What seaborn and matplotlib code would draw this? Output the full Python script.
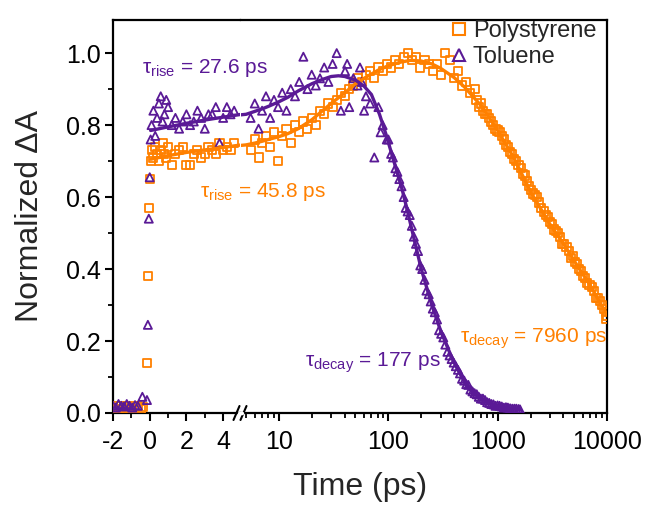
import numpy as np
import pandas as pd
import matplotlib
matplotlib.use("Agg")
import matplotlib.pyplot as plt
from matplotlib.lines import Line2D
from matplotlib.ticker import MultipleLocator, LogLocator, NullFormatter, FixedLocator
import seaborn as sns

# ---------------- data ----------------
# linear segment (-2 ... 5 ps)
ps_lin_x = [-2.0, -1.85, -1.7, -1.55, -1.4, -1.25, -1.1, -0.95, -0.8, -0.65, -0.5, -0.35,
            -0.15, -0.1, -0.05, 0.0, 0.05,
            0.1, 0.2, 0.3, 0.4, 0.5, 0.6, 0.7, 0.8, 0.9, 1.0, 1.2, 1.4, 1.6, 1.8, 2.0, 2.2,
            2.4, 2.6, 2.8, 3.0, 3.2, 3.4, 3.6, 3.8, 4.0, 4.2, 4.4, 4.6]
ps_lin_y = [0.015, 0.02, 0.01, 0.018, 0.012, 0.02, 0.015, 0.01, 0.018, 0.02, 0.012, 0.016,
            0.14, 0.38, 0.57, 0.65, 0.70,
            0.73, 0.71, 0.74, 0.72, 0.70, 0.73, 0.75, 0.72, 0.71, 0.74, 0.69, 0.72, 0.73, 0.74, 0.69, 0.69,
            0.72, 0.73, 0.71, 0.72, 0.74, 0.73, 0.72, 0.75, 0.73, 0.74, 0.73, 0.75]
tol_lin_x = [-2.0, -1.85, -1.7, -1.55, -1.4, -1.25, -1.1, -0.95, -0.8, -0.65, -0.4,
             -0.15, -0.1, -0.05, 0.0, 0.05,
             0.1, 0.2, 0.3, 0.4, 0.5, 0.6, 0.7, 0.8, 0.9, 1.0, 1.2, 1.4, 1.6, 1.8, 2.0, 2.2,
             2.4, 2.6, 2.8, 3.0, 3.2, 3.4, 3.6, 3.8, 4.0, 4.2, 4.4, 4.6]
tol_lin_y = [0.02, 0.015, 0.025, 0.02, 0.018, 0.025, 0.02, 0.015, 0.022, 0.02, 0.045,
             0.036, 0.245, 0.54, 0.655, 0.76,
             0.80, 0.84, 0.77, 0.82, 0.86, 0.88, 0.81, 0.83, 0.87, 0.85, 0.80, 0.82, 0.79, 0.81, 0.83, 0.80,
             0.81, 0.84, 0.82, 0.79, 0.83, 0.83, 0.85, 0.75, 0.82, 0.85, 0.83, 0.84]

# log segment (5 ... 10000 ps)
ps_log_x = [5.5, 6, 6.5, 7, 7.6, 8.3, 9, 9.8, 10.7, 11.7, 12.8, 14, 15.3, 16.7, 18.2, 19.9, 21.7,
            23.7, 25.9, 28.3, 30.9, 33.7, 36.8, 40.2, 43.9, 47.9, 52.3, 57.1, 62.4, 68.1, 74.4,
            81.2, 88.7, 96.8, 106, 116, 126, 138, 150, 164, 179, 196, 214, 234, 255, 279, 304,
            332, 363, 396, 433, 472, 516, 563, 615, 672, 733, 801, 875, 955, 1040, 1140, 1240,
            1360, 1480, 1620, 1770, 1930, 2110, 2300, 2510, 2750, 3000, 3270, 3570, 3900, 4260,
            4650, 5080, 5550, 6060, 6620, 7230, 7890, 8620, 9410, 10000,
            640, 700, 765, 835, 912, 996, 1090, 1190, 1300, 1420, 1550, 1690, 1850, 2020, 2200,
            2410, 2630, 2870, 3130, 3420, 3740, 4080, 4460, 4870, 5310, 5800, 6340, 6920, 7550,
            8250, 9010, 9800, 9900]
ps_log_y = [0.73, 0.76, 0.71, 0.75, 0.77, 0.74, 0.78, 0.70, 0.77, 0.79, 0.75, 0.80, 0.78, 0.81, 0.79, 0.82, 0.80,
            0.84, 0.83, 0.86, 0.85, 0.87, 0.89, 0.88, 0.90, 0.91, 0.93, 0.92, 0.94, 0.95, 0.93,
            0.96, 0.95, 0.97, 0.96, 0.98, 0.97, 0.99, 1.00, 0.98, 0.99, 0.96, 0.98, 0.97, 0.95, 0.97, 0.94,
            1.00, 0.98, 0.93, 0.95, 0.91, 0.92, 0.89, 0.90, 0.85, 0.84, 0.83, 0.81, 0.79, 0.78, 0.76, 0.74,
            0.72, 0.70, 0.68, 0.66, 0.63, 0.61, 0.60, 0.57, 0.55, 0.53, 0.51, 0.50, 0.47, 0.46,
            0.43, 0.42, 0.40, 0.38, 0.36, 0.35, 0.32, 0.31, 0.29, 0.27,
            0.87, 0.86, 0.83, 0.82, 0.80, 0.785, 0.77, 0.745, 0.725, 0.705, 0.69, 0.665, 0.645, 0.62, 0.605,
            0.585, 0.56, 0.545, 0.525, 0.505, 0.49, 0.47, 0.45, 0.435, 0.415, 0.395, 0.375, 0.355, 0.34,
            0.32, 0.30, 0.28, 0.26]
tol_log_x = [5.5, 6, 6.5, 7, 7.6, 8.3, 9, 9.8, 10.7, 11.7, 12.8, 14, 15.3, 16.7, 18.2, 19.9, 21.7,
             23.7, 25.9, 28.3, 30.9, 33.7, 36.8, 40.2, 43.9, 47.9, 52.3, 57.1, 62.4, 68.1, 74.4,
             81.2, 88.7, 96.8, 106, 116, 126, 138, 150, 164, 179, 196, 214, 234, 255, 279, 304,
             332, 363, 396, 433, 472, 516, 563, 615, 672, 733, 801, 875, 955, 1040, 1140, 1240,
             1360, 1480, 1600,
             100, 110, 121, 132, 144, 157, 171, 187, 204, 223, 244, 266, 291, 318, 347, 379, 414,
             452, 494, 539, 588, 643, 702, 766, 837, 914, 998, 1090, 1190, 1300, 1420, 1550,
             42, 55, 60, 85]
tol_log_y = [0.82, 0.86, 0.79, 0.84, 0.88, 0.82, 0.87, 0.85, 0.89, 0.84, 0.90, 0.88, 0.92, 0.99, 0.90, 0.94, 0.91,
             0.93, 0.96, 0.92, 0.97, 1.00, 0.84, 0.95, 0.85, 0.93, 0.91, 0.92, 0.88, 0.86, 0.71,
             0.85, 0.80, 0.76, 0.72, 0.68, 0.65, 0.60, 0.56, 0.52, 0.47, 0.41, 0.37, 0.33, 0.29, 0.26, 0.22,
             0.19, 0.16, 0.14, 0.12, 0.095, 0.08, 0.065, 0.055, 0.045, 0.04, 0.03, 0.025, 0.02, 0.02, 0.015, 0.015,
             0.012, 0.012, 0.01,
             0.76, 0.71, 0.67, 0.63, 0.57, 0.55, 0.49, 0.45, 0.40, 0.34, 0.31, 0.28, 0.23, 0.21, 0.17, 0.15, 0.13,
             0.11, 0.09, 0.078, 0.06, 0.052, 0.04, 0.036, 0.028, 0.024, 0.021, 0.018, 0.016, 0.013, 0.012, 0.011,
             0.97, 0.96, 0.84, 0.78]

# fitted curves
ps_fit_lin_x = [0.05, 1, 2, 3, 4, 5]
ps_fit_lin_y = [0.705, 0.715, 0.724, 0.731, 0.738, 0.745]
tol_fit_lin_x = [0.05, 1, 2, 3, 4, 5]
tol_fit_lin_y = [0.785, 0.795, 0.805, 0.814, 0.822, 0.83]
ps_fit_log_x = [4.3, 5, 6, 7, 8, 10, 12, 15, 20, 25, 30, 40, 50, 60, 80, 100, 130, 160, 200, 250, 300, 400,
                500, 700, 1000, 1400, 2000, 3000, 4000, 5600, 7000, 8500, 10000]
ps_fit_log_y = [0.743, 0.745, 0.75, 0.755, 0.76, 0.768, 0.776, 0.79, 0.815, 0.84, 0.86, 0.89, 0.915, 0.93,
                0.952, 0.965, 0.975, 0.98, 0.978, 0.97, 0.958, 0.932, 0.905, 0.855, 0.785, 0.71, 0.615,
                0.525, 0.47, 0.40, 0.355, 0.31, 0.275]
tol_fit_log_x = [4.3, 5, 6, 7, 8, 10, 12, 15, 20, 25, 30, 35, 40, 50, 60, 70, 83, 95, 105, 120, 134, 150, 170,
                 200, 250, 300, 350, 400, 460, 520, 600, 700, 850, 1000, 1250, 1600]
tol_fit_log_y = [0.828, 0.83, 0.838, 0.845, 0.852, 0.865, 0.877, 0.895, 0.915, 0.927, 0.935, 0.937, 0.935,
                 0.925, 0.908, 0.885, 0.83, 0.775, 0.73, 0.67, 0.62, 0.56, 0.49, 0.40, 0.30, 0.23, 0.18,
                 0.14, 0.105, 0.075, 0.055, 0.04, 0.028, 0.02, 0.013, 0.01]

series = ["Polystyrene", "Toluene"]
lin_ticks = [-2, 0, 2, 4]
log_ticks = [10, 100, 1000, 10000]
log_ticklabels = ["10", "100", "1000", "10000"]
y_ticks = [0.0, 0.2, 0.4, 0.6, 0.8, 1.0]

# ---------------- style ----------------
sns.set_theme(style="ticks")
plt.rcParams["font.family"] = ["Liberation Sans", "DejaVu Sans"]
plt.rcParams["mathtext.fontset"] = "custom"
plt.rcParams["mathtext.rm"] = "Liberation Sans"
plt.rcParams["mathtext.it"] = "Liberation Sans:italic"
plt.rcParams["mathtext.default"] = "regular"

ORANGE = "#FF8000"
PURPLE = "#5A1A96"
W, Hpx = 649, 505

fig = plt.figure(figsize=(W / 100, Hpx / 100), dpi=100)
fig.patch.set_facecolor("white")
xb = 240.5
B = 1 - 413 / Hpx
H = (413 - 20) / Hpx
ax1 = fig.add_axes([113 / W, B, (xb - 113) / W, H])
ax2 = fig.add_axes([xb / W, B, (607 - xb) / W, H])

mk = dict(s=34, facecolor="none", linewidth=1.3, legend=False, zorder=3)

# linear segment
sns.scatterplot(x=ps_lin_x, y=ps_lin_y, ax=ax1, marker="s", edgecolor=ORANGE, **mk)
sns.scatterplot(x=tol_lin_x, y=tol_lin_y, ax=ax1, marker="^", edgecolor=PURPLE, **mk)
sns.lineplot(x=ps_fit_lin_x, y=ps_fit_lin_y, ax=ax1, color=ORANGE, lw=2.4, zorder=4)
sns.lineplot(x=tol_fit_lin_x, y=tol_fit_lin_y, ax=ax1, color=PURPLE, lw=2.4, zorder=4)

# log segment
sns.scatterplot(x=ps_log_x, y=ps_log_y, ax=ax2, marker="s", edgecolor=ORANGE, **mk)
sns.scatterplot(x=tol_log_x, y=tol_log_y, ax=ax2, marker="^", edgecolor=PURPLE, **mk)
sns.lineplot(x=ps_fit_log_x, y=ps_fit_log_y, ax=ax2, color=ORANGE, lw=2.4, zorder=4)
sns.lineplot(x=tol_fit_log_x, y=tol_fit_log_y, ax=ax2, color=PURPLE, lw=2.4, zorder=4)

TICK_FS = 18
for ax in (ax1, ax2):
    ax.set_ylim(0, 1.092)
    for sp in ax.spines.values():
        sp.set_linewidth(1.6)
        sp.set_color("black")
    ax.set_xlabel("")
    ax.set_ylabel("")
    ax.set_facecolor("white")

ax1.set_xlim(-2, (xb - 150) / 18.3)
ax1.xaxis.set_major_locator(FixedLocator(lin_ticks))
ax1.xaxis.set_minor_locator(FixedLocator([-1, 1, 3]))
ax1.set_xticklabels([str(t) for t in lin_ticks])
ax1.set_yticks(y_ticks)
ax1.set_yticklabels([f"{t:.1f}" for t in y_ticks])
ax1.yaxis.set_minor_locator(MultipleLocator(0.1))
ax1.spines["right"].set_visible(False)
ax1.tick_params(axis="both", which="major", direction="out", length=6, width=1.5,
                labelsize=TICK_FS, colors="black", pad=3)
ax1.tick_params(axis="both", which="minor", direction="out", length=3.5, width=1.3, colors="black")
ax1.tick_params(axis="x", which="major", pad=6)

ax2.set_xscale("log")
ax2.set_xlim(10 ** (1 - (279 - xb) / 109.3), 10000)
ax2.xaxis.set_major_locator(FixedLocator(log_ticks))
ax2.set_xticklabels(log_ticklabels)
ax2.xaxis.set_minor_locator(LogLocator(base=10, subs=np.arange(2, 10)))
ax2.xaxis.set_minor_formatter(NullFormatter())
ax2.spines["left"].set_visible(False)
ax2.set_yticks([])
ax2.tick_params(axis="y", which="both", left=False, labelleft=False)
ax2.tick_params(axis="x", which="major", direction="out", length=6, width=1.5,
                labelsize=TICK_FS, colors="black", pad=6)
ax2.tick_params(axis="x", which="minor", direction="out", length=3.5, width=1.3, colors="black")

# axis break marks
for dx in (-4, 3):
    x0 = (xb + dx) / W
    fig.add_artist(Line2D([x0 - 3 / W, x0 + 3 / W], [B - 7 / Hpx, B + 7 / Hpx],
                          color="black", lw=1.5, transform=fig.transFigure))
fig.add_artist(Line2D([(xb - 2) / W, (xb + 1.5) / W], [B, B], color="white", lw=2.5,
                      transform=fig.transFigure))

# axis labels
fig.text(360 / W, 1 - 487 / Hpx, "Time (ps)", ha="center", va="center", fontsize=23)
fig.text(30 / W, 1 - 216 / Hpx, "Normalized ΔA", ha="center", va="center",
         rotation=90, fontsize=23)

# annotations
ANN_FS = 15
fig.text(142 / W, 1 - 73 / Hpx, r"τ$_{\mathrm{rise}}$ = 27.6 ps", color=PURPLE,
         fontsize=ANN_FS, va="baseline")
fig.text(200 / W, 1 - 197 / Hpx, r"τ$_{\mathrm{rise}}$ = 45.8 ps", color=ORANGE,
         fontsize=ANN_FS, va="baseline")
fig.text(305 / W, 1 - 367 / Hpx, r"τ$_{\mathrm{decay}}$ = 177 ps", color=PURPLE,
         fontsize=ANN_FS, va="baseline")
fig.text(460 / W, 1 - 343 / Hpx, r"τ$_{\mathrm{decay}}$ = 7960 ps", color=ORANGE,
         fontsize=ANN_FS, va="baseline")

# legend
handles = [Line2D([], [], ls="none", marker="s", ms=8, mfc="none", mec=ORANGE, mew=1.5),
           Line2D([], [], ls="none", marker="^", ms=9, mfc="none", mec=PURPLE, mew=1.5)]
ax2.legend(handles, series, loc="upper right", bbox_to_anchor=(1.01, 1.035), frameon=False,
           fontsize=17, handletextpad=0.1, handlelength=1.0, labelspacing=0.15,
           borderaxespad=0.2)

fig.savefig("out.png", dpi=100, facecolor="white")
